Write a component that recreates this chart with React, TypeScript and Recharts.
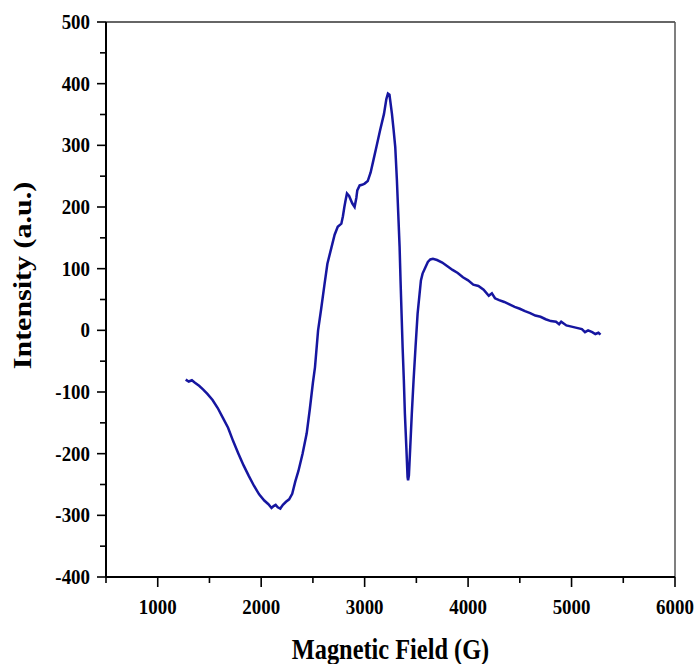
import React from "react";
import { LineChart, Line, XAxis, YAxis, ReferenceLine } from "recharts";

// EPR spectrum
const fieldG = [
  1270, 1300, 1330, 1360, 1400, 1440, 1480, 1530, 1580, 1630, 1680, 1730, 1780,
  1830, 1880, 1930, 1980, 2030, 2070, 2100, 2120, 2140, 2160, 2185, 2210, 2240,
  2270, 2300, 2330, 2360, 2400, 2440, 2470, 2500, 2520, 2550, 2580, 2610, 2640,
  2680, 2710, 2740, 2775, 2790, 2804, 2815, 2829, 2850, 2880, 2903, 2920, 2929,
  2952, 2975, 3000, 3030, 3058, 3085, 3113, 3150, 3187, 3210, 3225, 3240, 3264,
  3280, 3296, 3312, 3325, 3338, 3347, 3357, 3367, 3379, 3389, 3403, 3415, 3420,
  3428, 3441, 3456, 3473, 3492, 3512, 3531, 3544, 3560, 3579, 3611, 3635, 3660,
  3700, 3750, 3800, 3850, 3900, 3950, 4000, 4050, 4100, 4150, 4200, 4230, 4260,
  4300, 4350, 4400, 4450, 4500, 4550, 4600, 4650, 4700, 4750, 4800, 4850, 4880,
  4900, 4950, 5000, 5050, 5100, 5130, 5160, 5200, 5230, 5260, 5280,
];

const intensity = [
  -80, -83, -81, -85, -90, -96, -103, -113, -126, -142, -158, -180, -200,
  -219, -236, -252, -266, -276, -282, -288, -285, -283, -287, -289, -283, -278,
  -274, -265, -245, -228, -200, -167, -128, -85, -60, 0, 35, 72, 108,
  135, 155, 168, 173, 185, 200, 210, 222, 218, 206, 200, 215, 227,
  235, 236, 238, 242, 256, 276, 297, 325, 351, 375, 384, 382, 351,
  325, 297, 243, 189, 135, 81, 27, -27, -81, -135, -189, -238, -243,
  -235, -189, -135, -81, -27, 27, 59, 81, 92, 99, 111, 115, 116,
  114, 110, 104, 98, 93, 86, 81, 74, 72, 66, 56, 60, 52,
  49, 46, 42, 38, 35, 31, 28, 24, 22, 18, 15, 14, 10,
  14, 8, 6, 4, 2, -3, 0, -3, -6, -4, -7,
];

const xTicks = [500, 1000, 1500, 2000, 2500, 3000, 3500, 4000, 4500, 5000, 5500, 6000];
const yTicks = [
  -400, -350, -300, -250, -200, -150, -100, -50, 0, 50, 100, 150, 200, 250, 300,
  350, 400, 450, 500,
];

const data = fieldG.map((f, i) => ({ field: f, value: intensity[i] }));

const FONT = "'Liberation Serif', 'Times New Roman', serif";

const XTick = (props: any) => {
  const { x, y, payload } = props;
  const v = payload.value;
  const major = v % 1000 === 0;
  return (
    <g>
      <line x1={x} x2={x} y1={y} y2={y + (major ? 10 : 6)} stroke="#000" strokeWidth={1.6} />
      {major && (
        <text
          transform={`translate(${x},${y + 37}) scale(0.86,1)`}
          textAnchor="middle"
          fontFamily={FONT}
          fontWeight="bold"
          fontSize={22}
          fill="#000"
        >
          {v}
        </text>
      )}
    </g>
  );
};

const YTick = (props: any) => {
  const { x, y, payload } = props;
  const v = payload.value;
  const major = v % 100 === 0;
  return (
    <g>
      <line x1={x} x2={x - (major ? 9 : 6)} y1={y} y2={y} stroke="#000" strokeWidth={1.6} />
      {major && (
        <text
          transform={`translate(${x - 16},${y + 7}) scale(0.86,1)`}
          textAnchor="end"
          fontFamily={FONT}
          fontWeight="bold"
          fontSize={22}
          fill="#000"
        >
          {v}
        </text>
      )}
    </g>
  );
};

const XLabel = (props: any) => {
  const vb = props.viewBox || { x: 106, y: 577, width: 569, height: 87 };
  const cx = vb.x + vb.width / 2;
  const by = vb.y + vb.height - 5;
  return (
    <text
      transform={`translate(${cx},${by}) scale(0.84,1)`}
      textAnchor="middle"
      fontFamily={FONT}
      fontWeight="bold"
      fontSize={29}
      fill="#000"
    >
      Magnetic Field (G)
    </text>
  );
};

const YLabel = (props: any) => {
  const vb = props.viewBox || { x: 0, y: 22, width: 106, height: 555 };
  const cy = vb.y + vb.height / 2 - 24;
  const bx = vb.x + 31;
  return (
    <text
      transform={`translate(${bx},${cy}) rotate(-90) scale(1,0.84)`}
      textAnchor="middle"
      fontFamily={FONT}
      fontWeight="bold"
      fontSize={30}
      fill="#000"
    >
      Intensity (a.u.)
    </text>
  );
};

export default function App() {
  return (
    <div
      style={{
        position: "absolute",
        left: 0,
        top: 0,
        width: 697,
        height: 664,
        background: "#fff",
      }}
    >
      <LineChart
        width={697}
        height={664}
        data={data}
        margin={{ top: 22, right: 22, left: 0, bottom: 0 }}
      >
        <XAxis
          type="number"
          dataKey="field"
          domain={[500, 6000]}
          ticks={xTicks}
          interval={0}
          height={87}
          tickSize={0}
          tickMargin={0}
          tickLine={false}
          tick={<XTick />}
          axisLine={{ stroke: "#000", strokeWidth: 2 }}
          label={<XLabel />}
        />
        <YAxis
          type="number"
          domain={[-400, 500]}
          ticks={yTicks}
          interval={0}
          width={106}
          tickSize={0}
          tickMargin={0}
          tickLine={false}
          tick={<YTick />}
          axisLine={{ stroke: "#000", strokeWidth: 2 }}
          label={<YLabel />}
        />
        <ReferenceLine y={500} stroke="#333" strokeWidth={1.5} />
        <ReferenceLine x={6000} stroke="#555" strokeWidth={1.5} />
        <Line
          type="linear"
          dataKey="value"
          stroke="#1616a0"
          strokeWidth={2.5}
          dot={false}
          isAnimationActive={false}
        />
      </LineChart>
    </div>
  );
}
